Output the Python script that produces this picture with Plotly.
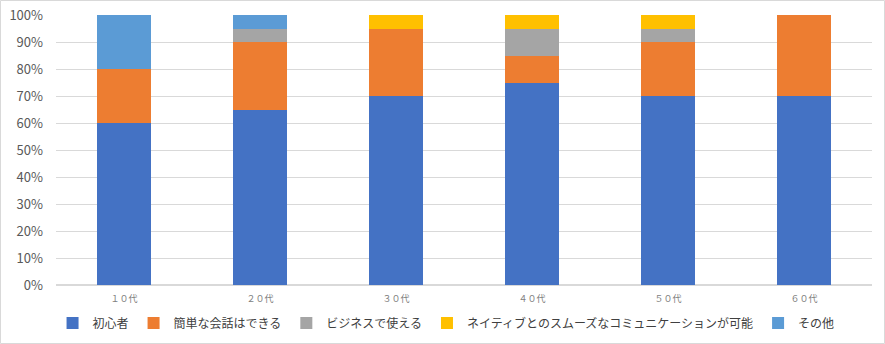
import plotly.graph_objects as go

categories = ["１０代", "２０代", "３０代", "４０代", "５０代", "６０代"]
series_names = ["初心者", "簡単な会話はできる", "ビジネスで使える",
                "ネイティブとのスムーズなコミュニケーションが可能", "その他"]
beginner = [60, 65, 70, 75, 70, 70]
simple_conv = [20, 25, 25, 10, 20, 30]
business = [0, 5, 0, 10, 5, 0]
native = [0, 0, 5, 5, 5, 0]
other = [20, 5, 0, 0, 0, 0]
values = [beginner, simple_conv, business, native, other]
colors = ["#4472C4", "#ED7D31", "#A5A5A5", "#FFC000", "#5B9BD5"]

W, H = 885, 344
ml, mr, mt, mb = 56, 13, 15, 59

fig = go.Figure()
for name, vals, c in zip(series_names, values, colors):
    fig.add_trace(go.Bar(x=categories, y=vals, name=name, marker_color=c,
                         marker_line_width=0, width=0.4))

pw = W - ml - mr
ph = H - mt - mb
fig.add_shape(type="rect", xref="paper", yref="paper",
              x0=(-ml + 0.5) / pw, x1=(W - ml - 0.5) / pw,
              y0=(-mb + 0.5) / ph, y1=(H - mb - 0.5) / ph,
              line=dict(color="#D9D9D9", width=1), layer="below")

fig.update_layout(
    width=W, height=H,
    margin=dict(l=ml, r=mr, t=mt, b=mb, autoexpand=False),
    barmode="stack",
    paper_bgcolor="white", plot_bgcolor="white",
    font=dict(family="Noto Sans CJK JP", color="#595959"),
    showlegend=True,
    legend=dict(orientation="h", x=0.478, xanchor="center", y=-38 / ph, yanchor="middle",
                font=dict(size=12, color="#404040"), traceorder="normal",
                itemwidth=30, tracegroupgap=0),
    xaxis=dict(tickfont=dict(size=9, color="#808080"), showgrid=False,
               showline=False, ticks="", ticklabelstandoff=7),
    yaxis=dict(range=[0, 100], tickvals=list(range(0, 101, 10)),
               ticktext=[f"{v}%" for v in range(0, 101, 10)],
               gridcolor="#D9D9D9", gridwidth=1, zeroline=True,
               zerolinecolor="#D9D9D9", tickfont=dict(size=13, color="#595959"),
               ticks="", ticklabelstandoff=12),
)
fig.write_html("out.html")
